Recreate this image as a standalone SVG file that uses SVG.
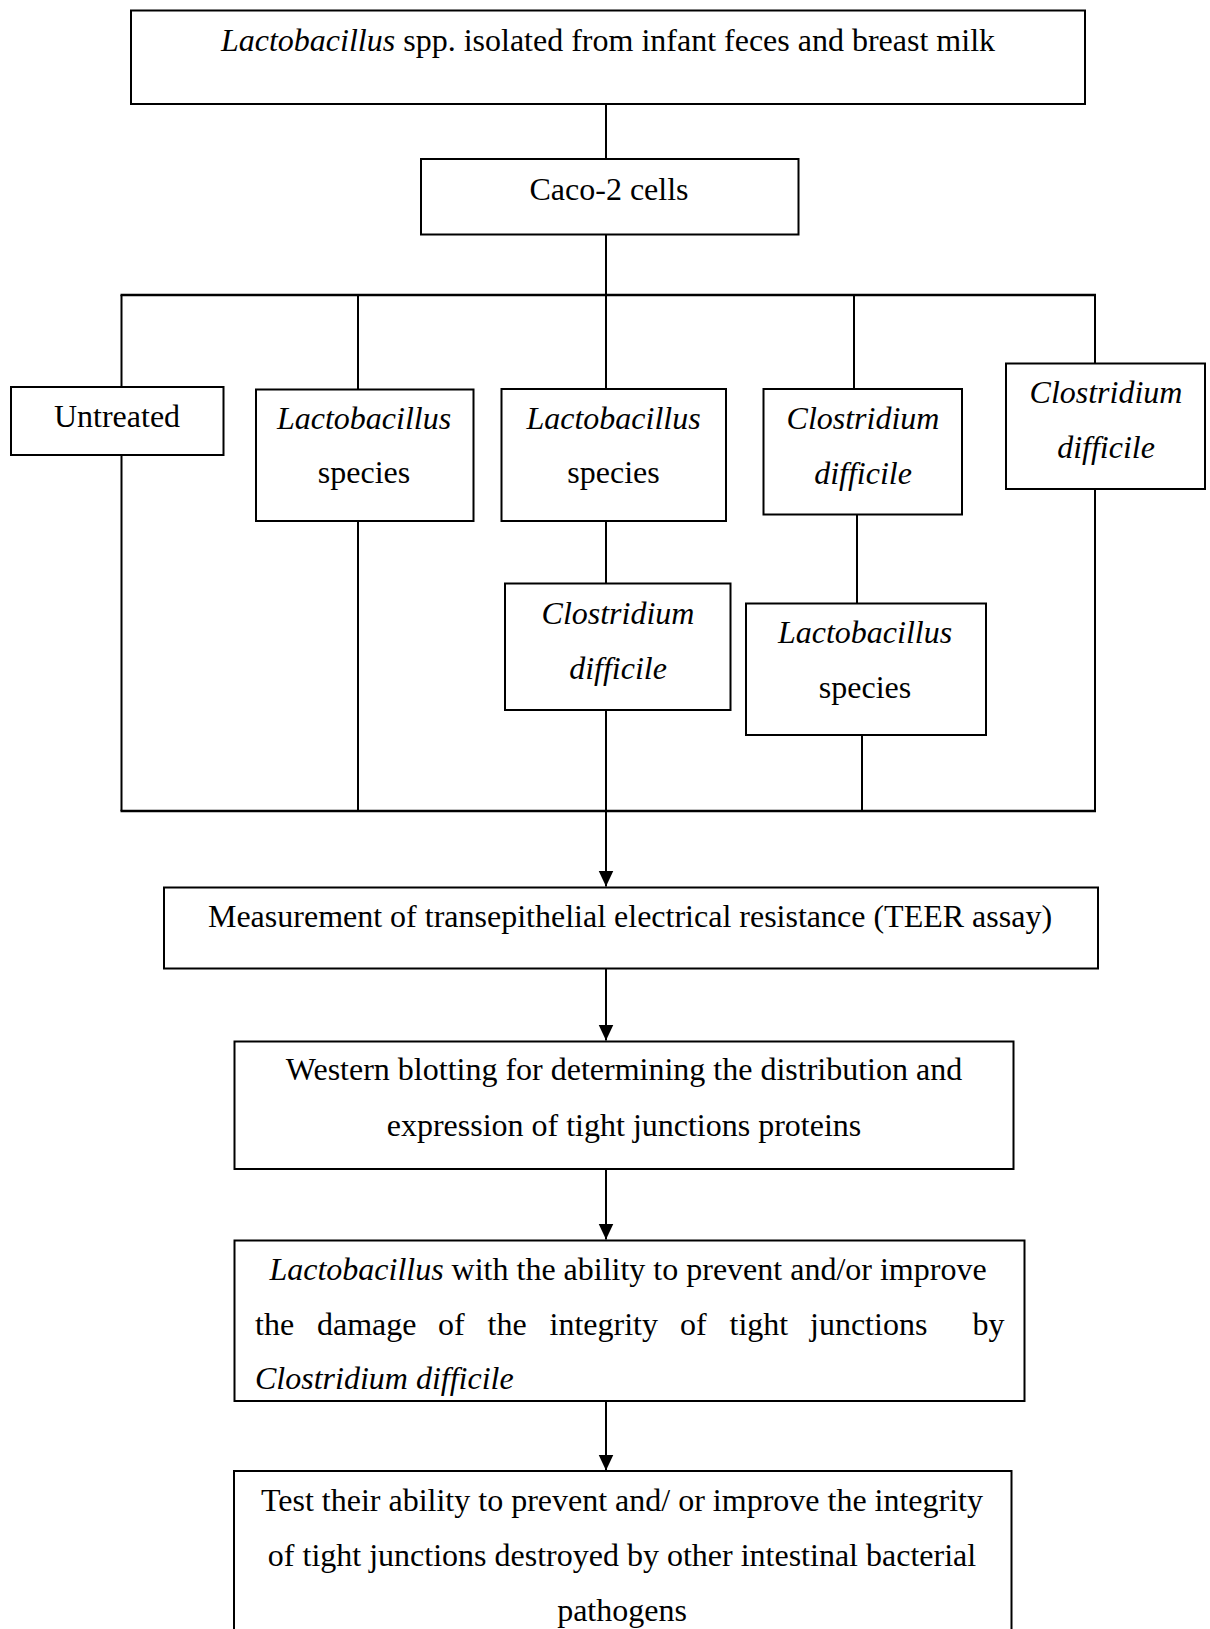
<svg xmlns="http://www.w3.org/2000/svg" width="1210" height="1629" viewBox="0 0 1210 1629">
<defs>
<style>
.box{fill:#fff;stroke:#000;stroke-width:2}
.ln{fill:none;stroke:#000;stroke-width:2}
.bus{fill:none;stroke:#000;stroke-width:2.5}
text{font-family:"Liberation Serif","Times New Roman",serif;font-size:32px;fill:#000}
.c{text-anchor:middle}
.i{font-style:italic}
</style>
<marker id="ah" markerUnits="userSpaceOnUse" markerWidth="16" markerHeight="17" refX="16" refY="7.5" orient="auto">
<path d="M0,0 L16,7.5 L0,15 z" fill="#000"/>
</marker>
</defs>
<rect width="1210" height="1629" fill="#fff"/>
<g id="connectors">
<line class="ln" x1="606" y1="104" x2="606" y2="159"/>
<line class="ln" x1="606" y1="234.5" x2="606" y2="295"/>
<line class="bus" x1="120.5" y1="295" x2="1096" y2="295"/>
<line class="ln" x1="121.5" y1="295" x2="121.5" y2="387"/>
<line class="ln" x1="358" y1="295" x2="358" y2="389.5"/>
<line class="ln" x1="606" y1="295" x2="606" y2="389"/>
<line class="ln" x1="854" y1="295" x2="854" y2="389"/>
<line class="ln" x1="1095" y1="295" x2="1095" y2="363.5"/>
<line class="ln" x1="121.5" y1="455" x2="121.5" y2="811"/>
<line class="ln" x1="358" y1="521" x2="358" y2="811"/>
<line class="ln" x1="606" y1="521" x2="606" y2="583.5"/>
<line class="ln" x1="606" y1="710" x2="606" y2="811"/>
<line class="ln" x1="857" y1="514.5" x2="857" y2="603.5"/>
<line class="ln" x1="862" y1="735" x2="862" y2="811"/>
<line class="ln" x1="1095" y1="489" x2="1095" y2="811"/>
<line class="bus" x1="120.5" y1="811" x2="1096" y2="811"/>
<line class="ln" x1="606" y1="811" x2="606" y2="886.5" marker-end="url(#ah)"/>
<line class="ln" x1="606" y1="969" x2="606" y2="1040.5" marker-end="url(#ah)"/>
<line class="ln" x1="606" y1="1169" x2="606" y2="1239.5" marker-end="url(#ah)"/>
<line class="ln" x1="606" y1="1401" x2="606" y2="1470.5" marker-end="url(#ah)"/>
</g>
<g id="n-source">
<rect class="box" x="131" y="10.5" width="954" height="93.5"/>
<text class="c" x="608" y="51"><tspan class="i">Lactobacillus</tspan> spp. isolated from infant feces and breast milk</text>
</g>
<g id="n-caco">
<rect class="box" x="421" y="159" width="377.5" height="75.5"/>
<text class="c" x="609" y="200">Caco-2 cells</text>
</g>
<g id="n-untreated">
<rect class="box" x="11" y="387" width="212.5" height="68"/>
<text class="c" x="117" y="427">Untreated</text>
</g>
<g id="n-lacto1">
<rect class="box" x="256" y="389.5" width="217.5" height="131.5"/>
<text class="c i" x="364" y="428.5">Lactobacillus</text>
<text class="c" x="364" y="483">species</text>
</g>
<g id="n-lacto2">
<rect class="box" x="501.5" y="389" width="224.5" height="132"/>
<text class="c i" x="613.5" y="429">Lactobacillus</text>
<text class="c" x="613.5" y="483">species</text>
</g>
<g id="n-clos1">
<rect class="box" x="763.5" y="389" width="198.5" height="125.5"/>
<text class="c i" x="863" y="429">Clostridium</text>
<text class="c i" x="863" y="484">difficile</text>
</g>
<g id="n-clos2">
<rect class="box" x="1006" y="363.5" width="199" height="125.5"/>
<text class="c i" x="1106" y="402.5">Clostridium</text>
<text class="c i" x="1106" y="458">difficile</text>
</g>
<g id="n-clos3">
<rect class="box" x="505" y="583.5" width="225.5" height="126.5"/>
<text class="c i" x="618" y="624">Clostridium</text>
<text class="c i" x="618" y="678.5">difficile</text>
</g>
<g id="n-lacto3">
<rect class="box" x="746" y="603.5" width="240" height="131.5"/>
<text class="c i" x="865" y="642.5">Lactobacillus</text>
<text class="c" x="865" y="697.5">species</text>
</g>
<g id="n-teer">
<rect class="box" x="164" y="887.5" width="934" height="81"/>
<text class="c" x="630" y="927">Measurement of transepithelial electrical resistance (TEER assay)</text>
</g>
<g id="n-western">
<rect class="box" x="234.5" y="1041.5" width="779" height="127.5"/>
<text class="c" x="624" y="1080">Western blotting for determining the distribution and</text>
<text class="c" x="624" y="1136">expression of tight junctions proteins</text>
</g>
<g id="n-lactobest">
<rect class="box" x="234.5" y="1240.5" width="790" height="160.5"/>
<text class="c" x="628" y="1279.5"><tspan class="i">Lactobacillus</tspan> with the ability to prevent and/or improve</text>
<text y="1334.5"><tspan x="255">the</tspan><tspan x="317">damage</tspan><tspan x="438">of</tspan><tspan x="487.5">the</tspan><tspan x="549.5">integrity</tspan><tspan x="680">of</tspan><tspan x="729.5">tight</tspan><tspan x="810">junctions</tspan><tspan x="972.5">by</tspan></text>
<text class="i" x="255" y="1389">Clostridium difficile</text>
</g>
<g id="n-test">
<rect class="box" x="234" y="1471" width="777.5" height="200"/>
<text class="c" x="622" y="1511">Test their ability to prevent and/ or improve the integrity</text>
<text class="c" x="622" y="1566">of tight junctions destroyed by other intestinal bacterial</text>
<text class="c" x="622" y="1620.5">pathogens</text>
</g>
</svg>
